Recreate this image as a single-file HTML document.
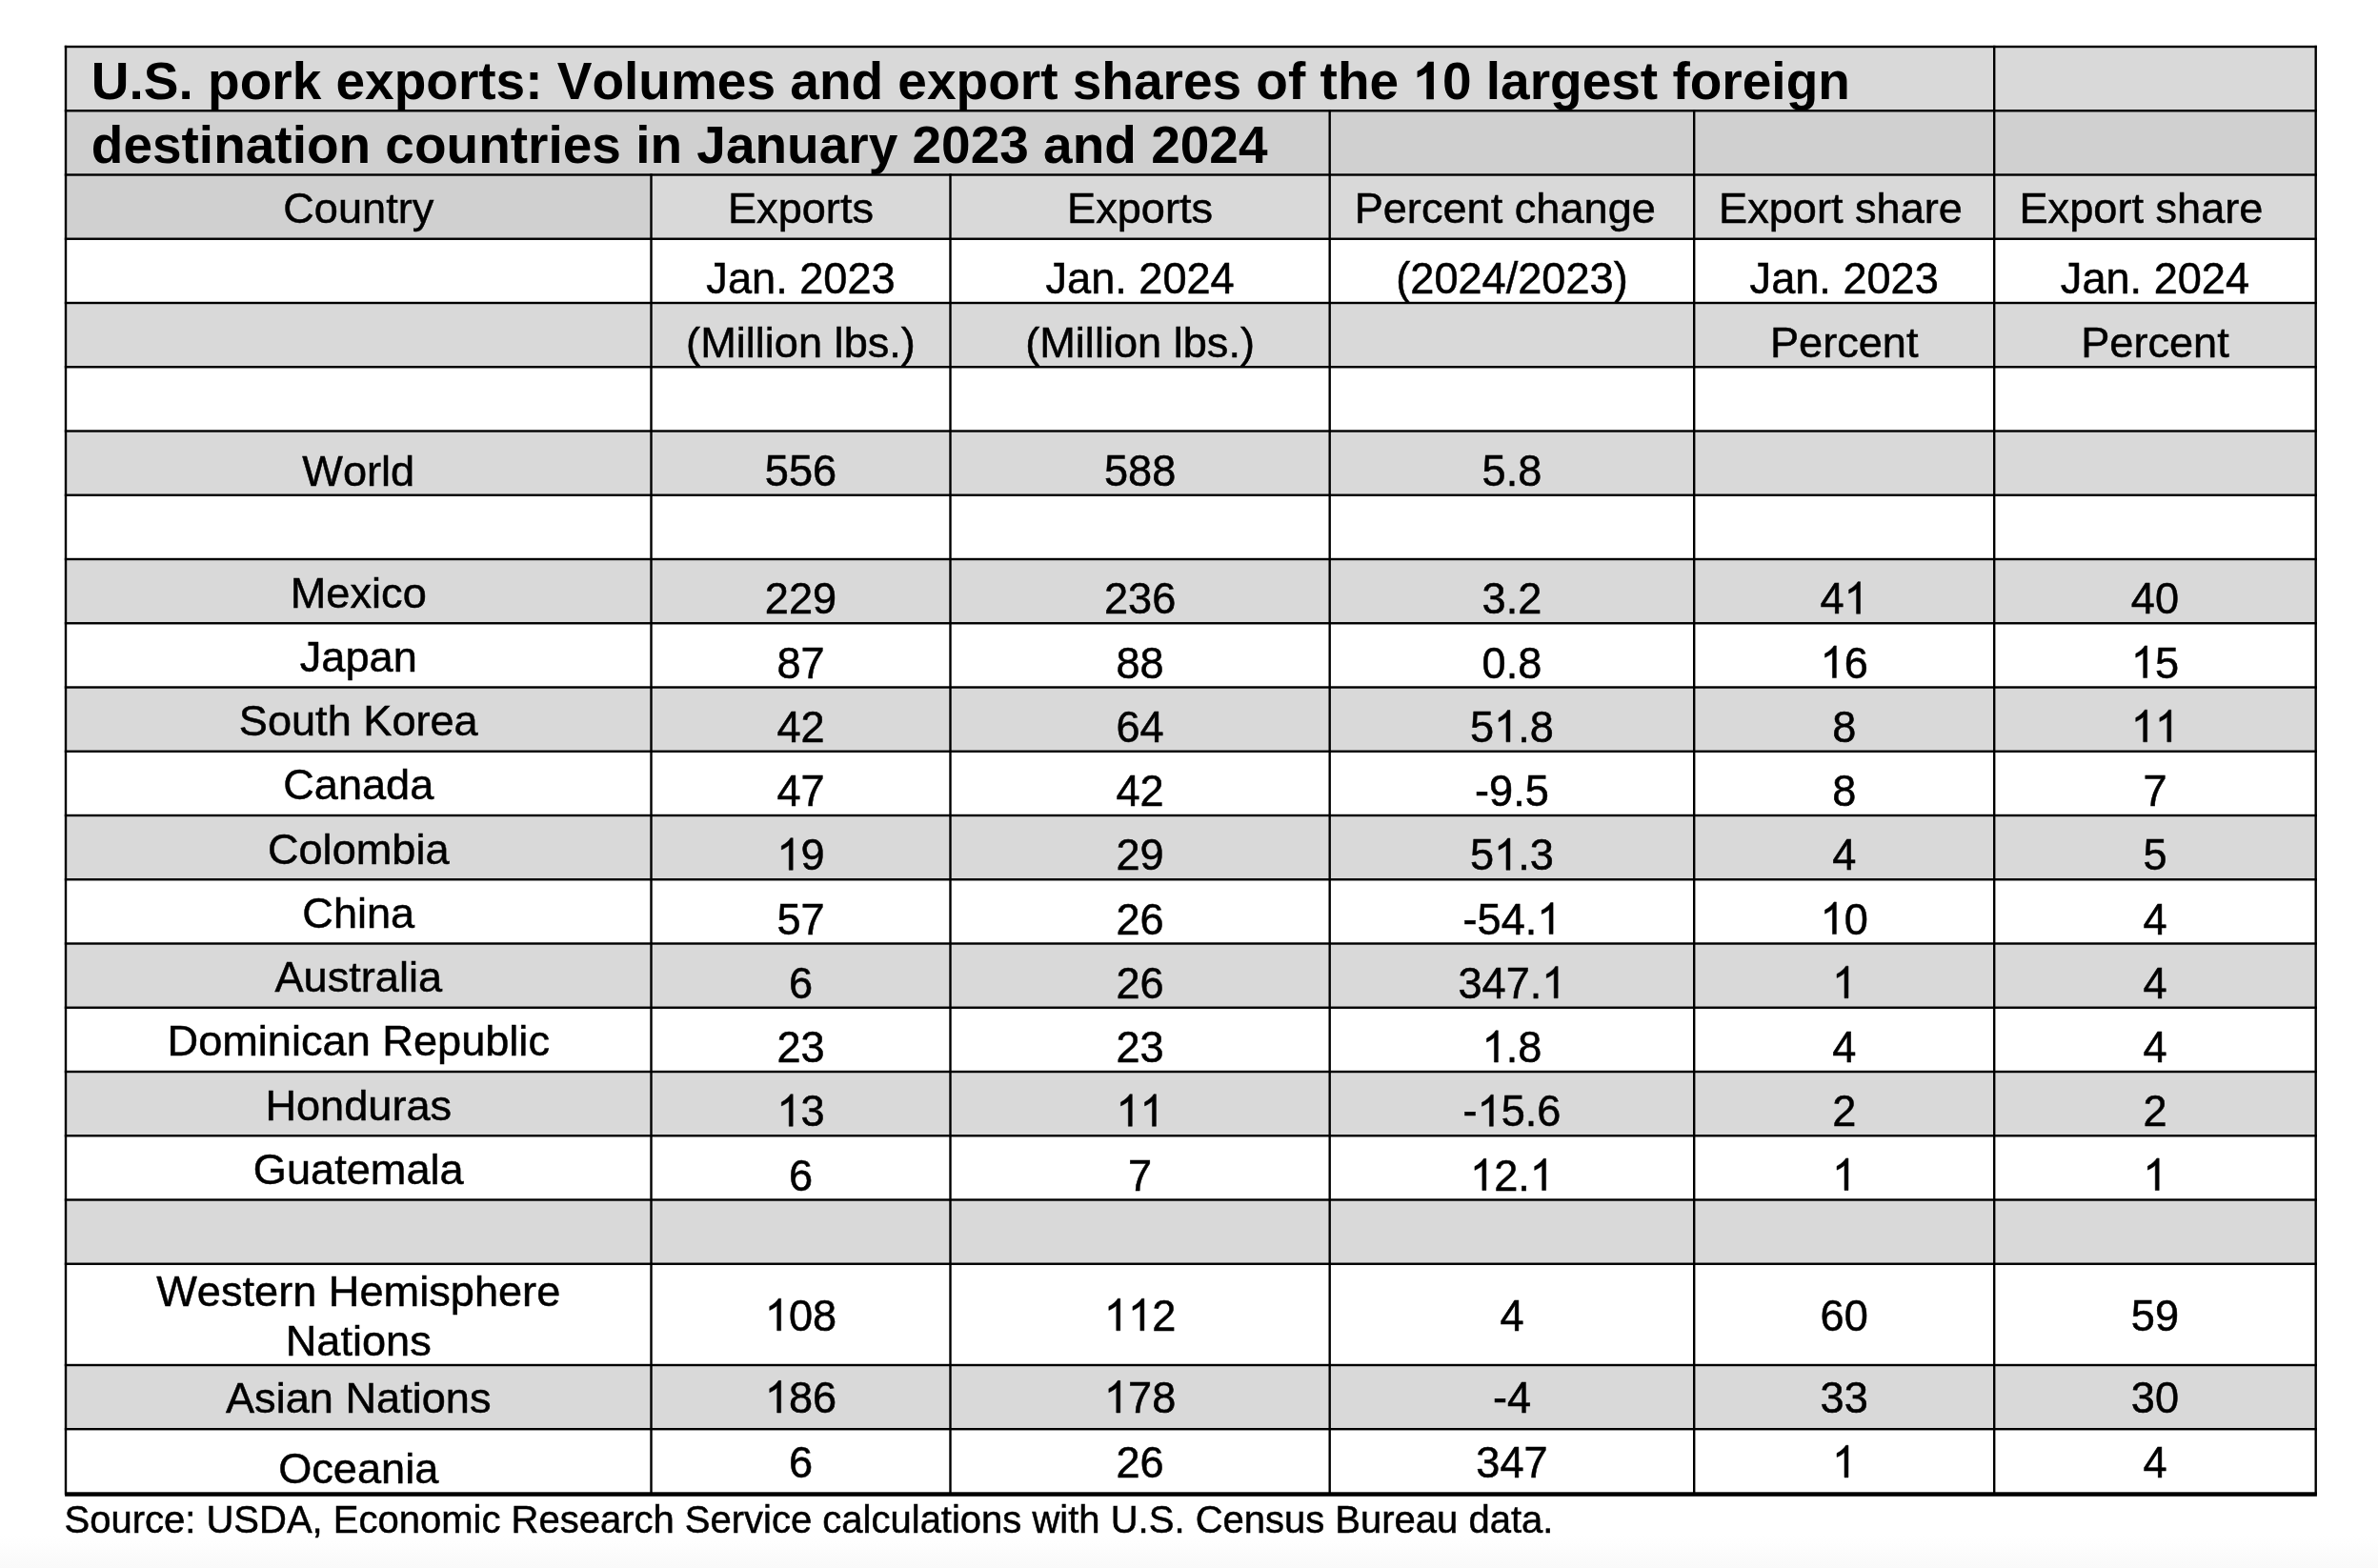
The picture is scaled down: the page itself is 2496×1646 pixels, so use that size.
<!DOCTYPE html>
<html><head><meta charset="utf-8"><style>
html,body{margin:0;padding:0;background:#fff;}
body{width:2496px;height:1646px;overflow:hidden;position:relative;}
.bg{position:absolute;left:0;top:0;width:2496px;height:1646px;background:linear-gradient(to bottom,#fff 0,#fff 1612px,#f9f9f9 1646px);}
svg{position:absolute;left:0;top:0;will-change:transform;}
text{font-family:"Liberation Sans",sans-serif;font-size:45.15px;fill:#000;text-anchor:middle;font-kerning:none;stroke:#000;stroke-width:0.5px;}
text.b{stroke-width:0;}
.h{fill:none;stroke:none;}
.one{fill:#000;stroke:#000;stroke-width:0.5px;vector-effect:non-scaling-stroke;}
</style></head><body><div class="bg"></div>
<svg width="2496" height="1646" viewBox="0 0 2496 1646">
<rect x="69.00" y="49.00" width="2361.70" height="67.25" fill="#d9d9d9"/>
<rect x="69.00" y="116.25" width="2361.70" height="67.25" fill="#d0d0d0"/>
<rect x="69.00" y="183.50" width="614.50" height="67.25" fill="#d0d0d0"/>
<rect x="683.50" y="183.50" width="1747.20" height="67.25" fill="#d9d9d9"/>
<rect x="69.00" y="318.00" width="2361.70" height="67.25" fill="#d9d9d9"/>
<rect x="69.00" y="452.50" width="2361.70" height="67.25" fill="#d9d9d9"/>
<rect x="69.00" y="587.00" width="2361.70" height="67.25" fill="#d9d9d9"/>
<rect x="69.00" y="721.50" width="2361.70" height="67.25" fill="#d9d9d9"/>
<rect x="69.00" y="856.00" width="2361.70" height="67.25" fill="#d9d9d9"/>
<rect x="69.00" y="990.50" width="2361.70" height="67.25" fill="#d9d9d9"/>
<rect x="69.00" y="1125.00" width="2361.70" height="67.25" fill="#d9d9d9"/>
<rect x="69.00" y="1259.50" width="2361.70" height="67.25" fill="#d9d9d9"/>
<rect x="69.00" y="1433.00" width="2361.70" height="67.20" fill="#d9d9d9"/>
<rect x="67.80" y="47.80" width="2364.10" height="2.40" fill="#000"/>
<rect x="67.80" y="115.05" width="2364.10" height="2.40" fill="#000"/>
<rect x="67.80" y="182.30" width="2364.10" height="2.40" fill="#000"/>
<rect x="67.80" y="249.55" width="2364.10" height="2.40" fill="#000"/>
<rect x="67.80" y="316.80" width="2364.10" height="2.40" fill="#000"/>
<rect x="67.80" y="384.05" width="2364.10" height="2.40" fill="#000"/>
<rect x="67.80" y="451.30" width="2364.10" height="2.40" fill="#000"/>
<rect x="67.80" y="518.55" width="2364.10" height="2.40" fill="#000"/>
<rect x="67.80" y="585.80" width="2364.10" height="2.40" fill="#000"/>
<rect x="67.80" y="653.05" width="2364.10" height="2.40" fill="#000"/>
<rect x="67.80" y="720.30" width="2364.10" height="2.40" fill="#000"/>
<rect x="67.80" y="787.55" width="2364.10" height="2.40" fill="#000"/>
<rect x="67.80" y="854.80" width="2364.10" height="2.40" fill="#000"/>
<rect x="67.80" y="922.05" width="2364.10" height="2.40" fill="#000"/>
<rect x="67.80" y="989.30" width="2364.10" height="2.40" fill="#000"/>
<rect x="67.80" y="1056.55" width="2364.10" height="2.40" fill="#000"/>
<rect x="67.80" y="1123.80" width="2364.10" height="2.40" fill="#000"/>
<rect x="67.80" y="1191.05" width="2364.10" height="2.40" fill="#000"/>
<rect x="67.80" y="1258.30" width="2364.10" height="2.40" fill="#000"/>
<rect x="67.80" y="1325.55" width="2364.10" height="2.40" fill="#000"/>
<rect x="67.80" y="1431.80" width="2364.10" height="2.40" fill="#000"/>
<rect x="67.80" y="1499.00" width="2364.10" height="2.40" fill="#000"/>
<rect x="68.10" y="1566.3" width="2363.80" height="4.5" fill="#000"/>
<rect x="67.80" y="47.80" width="2.40" height="1521.40" fill="#000"/>
<rect x="2429.50" y="47.80" width="2.40" height="1521.40" fill="#000"/>
<rect x="2092.00" y="47.80" width="2.40" height="1521.40" fill="#000"/>
<rect x="1394.50" y="115.05" width="2.40" height="1454.15" fill="#000"/>
<rect x="1777.00" y="115.05" width="2.40" height="1454.15" fill="#000"/>
<rect x="682.30" y="182.30" width="2.40" height="1386.90" fill="#000"/>
<rect x="996.30" y="182.30" width="2.40" height="1386.90" fill="#000"/>
<text id="t0" class="b" transform="translate(95.80 104.20) scale(1 1.0000)" style="font-weight:bold;font-size:55.0px;text-anchor:start">U.S. pork exports: Volumes and export shares of the <tspan class="h">1</tspan>0 largest foreign</text>
<text class="b" transform="translate(95.80 170.90) scale(1 1.0015)" style="font-weight:bold;font-size:55.0px;text-anchor:start">destination countries in January 2023 and 2024</text>
<text transform="translate(376.25 234.10) scale(1 1.0000)">Country</text>
<text transform="translate(840.50 234.10) scale(1 1.0000)">Exports</text>
<text transform="translate(1196.60 234.10) scale(1 1.0000)">Exports</text>
<text transform="translate(1579.75 234.10) scale(1 1.0000)">Percent change</text>
<text transform="translate(1932.00 234.10) scale(1 1.0000)">Export share</text>
<text transform="translate(2247.45 234.10) scale(1 1.0000)">Export share</text>
<text transform="translate(840.50 308.05) scale(1 1.0231)">Jan. 2023</text>
<text transform="translate(1196.60 308.05) scale(1 1.0231)">Jan. 2024</text>
<text transform="translate(1586.95 308.05) scale(1 1.0298)">(2024/2023)</text>
<text transform="translate(1935.70 308.05) scale(1 1.0231)">Jan. 2023</text>
<text transform="translate(2261.95 308.05) scale(1 1.0231)">Jan. 2024</text>
<text transform="translate(840.50 374.60) scale(1 1.0000)">(Million lbs.)</text>
<text transform="translate(1196.60 374.60) scale(1 1.0000)">(Million lbs.)</text>
<text transform="translate(1935.70 374.60) scale(1 1.0000)">Percent</text>
<text transform="translate(2261.95 374.60) scale(1 1.0000)">Percent</text>
<text transform="translate(376.25 509.80) scale(1 1.0002)">World</text>
<text transform="translate(840.50 509.80) scale(1 1.0410)">556</text>
<text transform="translate(1196.60 509.80) scale(1 1.0410)">588</text>
<text transform="translate(1586.95 509.80) scale(1 1.0273)">5.8</text>
<text transform="translate(376.25 637.60) scale(1 1.0000)">Mexico</text>
<text transform="translate(840.50 644.30) scale(1 1.0410)">229</text>
<text transform="translate(1196.60 644.30) scale(1 1.0410)">236</text>
<text transform="translate(1586.95 644.30) scale(1 1.0273)">3.2</text>
<text id="t1" transform="translate(1935.70 644.30) scale(1 1.0410)">4<tspan class="h">1</tspan></text>
<text transform="translate(2261.95 644.30) scale(1 1.0410)">40</text>
<text transform="translate(376.25 704.85) scale(1 1.0002)">Japan</text>
<text transform="translate(840.50 711.55) scale(1 1.0410)">87</text>
<text transform="translate(1196.60 711.55) scale(1 1.0410)">88</text>
<text transform="translate(1586.95 711.55) scale(1 1.0273)">0.8</text>
<text id="t2" transform="translate(1935.70 711.55) scale(1 1.0410)"><tspan class="h">1</tspan>6</text>
<text id="t3" transform="translate(2261.95 711.55) scale(1 1.0410)"><tspan class="h">1</tspan>5</text>
<text transform="translate(376.25 772.10) scale(1 1.0002)">South Korea</text>
<text transform="translate(840.50 778.80) scale(1 1.0410)">42</text>
<text transform="translate(1196.60 778.80) scale(1 1.0410)">64</text>
<text id="t4" transform="translate(1586.95 778.80) scale(1 1.0308)">5<tspan class="h">1</tspan>.8</text>
<text transform="translate(1935.70 778.80) scale(1 1.0410)">8</text>
<text id="t5" transform="translate(2261.95 778.80) scale(1 1.0410)"><tspan class="h">1</tspan><tspan class="h">1</tspan></text>
<text transform="translate(376.25 839.35) scale(1 1.0000)">Canada</text>
<text transform="translate(840.50 846.05) scale(1 1.0410)">47</text>
<text transform="translate(1196.60 846.05) scale(1 1.0410)">42</text>
<text transform="translate(1586.95 846.05) scale(1 1.0205)">-9.5</text>
<text transform="translate(1935.70 846.05) scale(1 1.0410)">8</text>
<text transform="translate(2261.95 846.05) scale(1 1.0410)">7</text>
<text transform="translate(376.25 906.60) scale(1 1.0000)">Colombia</text>
<text id="t6" transform="translate(840.50 913.30) scale(1 1.0410)"><tspan class="h">1</tspan>9</text>
<text transform="translate(1196.60 913.30) scale(1 1.0410)">29</text>
<text id="t7" transform="translate(1586.95 913.30) scale(1 1.0308)">5<tspan class="h">1</tspan>.3</text>
<text transform="translate(1935.70 913.30) scale(1 1.0410)">4</text>
<text transform="translate(2261.95 913.30) scale(1 1.0410)">5</text>
<text transform="translate(376.25 973.85) scale(1 1.0002)">China</text>
<text transform="translate(840.50 980.55) scale(1 1.0410)">57</text>
<text transform="translate(1196.60 980.55) scale(1 1.0410)">26</text>
<text id="t8" transform="translate(1586.95 980.55) scale(1 1.0246)">-54.<tspan class="h">1</tspan></text>
<text id="t9" transform="translate(1935.70 980.55) scale(1 1.0410)"><tspan class="h">1</tspan>0</text>
<text transform="translate(2261.95 980.55) scale(1 1.0410)">4</text>
<text transform="translate(376.25 1041.10) scale(1 1.0000)">Australia</text>
<text transform="translate(840.50 1047.80) scale(1 1.0410)">6</text>
<text transform="translate(1196.60 1047.80) scale(1 1.0410)">26</text>
<text id="t10" transform="translate(1586.95 1047.80) scale(1 1.0328)">347.<tspan class="h">1</tspan></text>
<text id="t11" transform="translate(1935.70 1047.80) scale(1 1.0410)"><tspan class="h">1</tspan></text>
<text transform="translate(2261.95 1047.80) scale(1 1.0410)">4</text>
<text transform="translate(376.25 1108.35) scale(1 1.0000)">Dominican Republic</text>
<text transform="translate(840.50 1115.05) scale(1 1.0410)">23</text>
<text transform="translate(1196.60 1115.05) scale(1 1.0410)">23</text>
<text id="t12" transform="translate(1586.95 1115.05) scale(1 1.0273)"><tspan class="h">1</tspan>.8</text>
<text transform="translate(1935.70 1115.05) scale(1 1.0410)">4</text>
<text transform="translate(2261.95 1115.05) scale(1 1.0410)">4</text>
<text transform="translate(376.25 1175.60) scale(1 1.0000)">Honduras</text>
<text id="t13" transform="translate(840.50 1182.30) scale(1 1.0410)"><tspan class="h">1</tspan>3</text>
<text id="t14" transform="translate(1196.60 1182.30) scale(1 1.0410)"><tspan class="h">1</tspan><tspan class="h">1</tspan></text>
<text id="t15" transform="translate(1586.95 1182.30) scale(1 1.0246)">-<tspan class="h">1</tspan>5.6</text>
<text transform="translate(1935.70 1182.30) scale(1 1.0410)">2</text>
<text transform="translate(2261.95 1182.30) scale(1 1.0410)">2</text>
<text transform="translate(376.25 1242.85) scale(1 1.0000)">Guatemala</text>
<text transform="translate(840.50 1249.55) scale(1 1.0410)">6</text>
<text transform="translate(1196.60 1249.55) scale(1 1.0410)">7</text>
<text id="t16" transform="translate(1586.95 1249.55) scale(1 1.0308)"><tspan class="h">1</tspan>2.<tspan class="h">1</tspan></text>
<text id="t17" transform="translate(1935.70 1249.55) scale(1 1.0410)"><tspan class="h">1</tspan></text>
<text id="t18" transform="translate(2261.95 1249.55) scale(1 1.0410)"><tspan class="h">1</tspan></text>
<text transform="translate(376.25 1370.70) scale(1 1.0000)">Western Hemisphere</text>
<text transform="translate(376.25 1422.70) scale(1 1.0000)">Nations</text>
<text id="t19" transform="translate(840.50 1396.80) scale(1 1.0410)"><tspan class="h">1</tspan>08</text>
<text id="t20" transform="translate(1196.60 1396.80) scale(1 1.0410)"><tspan class="h">1</tspan><tspan class="h">1</tspan>2</text>
<text transform="translate(1586.95 1396.80) scale(1 1.0410)">4</text>
<text transform="translate(1935.70 1396.80) scale(1 1.0410)">60</text>
<text transform="translate(2261.95 1396.80) scale(1 1.0410)">59</text>
<text transform="translate(376.25 1483.00) scale(1 1.0000)">Asian Nations</text>
<text id="t21" transform="translate(840.50 1483.00) scale(1 1.0410)"><tspan class="h">1</tspan>86</text>
<text id="t22" transform="translate(1196.60 1483.00) scale(1 1.0410)"><tspan class="h">1</tspan>78</text>
<text transform="translate(1586.95 1483.00) scale(1 1.0205)">-4</text>
<text transform="translate(1935.70 1483.00) scale(1 1.0410)">33</text>
<text transform="translate(2261.95 1483.00) scale(1 1.0410)">30</text>
<text transform="translate(376.25 1556.50) scale(1 1.0000)">Oceania</text>
<text transform="translate(840.50 1550.90) scale(1 1.0410)">6</text>
<text transform="translate(1196.60 1550.90) scale(1 1.0410)">26</text>
<text transform="translate(1586.95 1550.90) scale(1 1.0410)">347</text>
<text id="t23" transform="translate(1935.70 1550.90) scale(1 1.0410)"><tspan class="h">1</tspan></text>
<text transform="translate(2261.95 1550.90) scale(1 1.0410)">4</text>
<text transform="translate(67.50 1608.90) scale(1 1.0000)" style="font-size:40px;text-anchor:start">Source: USDA, Economic Research Service calculations with U.S. Census Bureau data.</text>
<path transform="translate(1483.35 104.20) scale(0.026855 -0.026855)" d="M802,0L521,0L521,1059Q367,915 158,846L158,1101Q268,1137 397,1237Q526,1337 574,1466L802,1466Z"/>
<path class="one" transform="translate(1935.70 644.30) scale(0.022046 -0.022950)" d="M763,0L583,0L583,1147Q518,1085 415,1024.5Q312,964 223,931L223,1105Q375,1176 489.5,1277.5Q604,1379 652,1466L763,1466Z"/>
<path class="one" transform="translate(1910.58 711.55) scale(0.022046 -0.022950)" d="M763,0L583,0L583,1147Q518,1085 415,1024.5Q312,964 223,931L223,1105Q375,1176 489.5,1277.5Q604,1379 652,1466L763,1466Z"/>
<path class="one" transform="translate(2236.83 711.55) scale(0.022046 -0.022950)" d="M763,0L583,0L583,1147Q518,1085 415,1024.5Q312,964 223,931L223,1105Q375,1176 489.5,1277.5Q604,1379 652,1466L763,1466Z"/>
<path class="one" transform="translate(1568.12 778.80) scale(0.022046 -0.022724)" d="M763,0L583,0L583,1147Q518,1085 415,1024.5Q312,964 223,931L223,1105Q375,1176 489.5,1277.5Q604,1379 652,1466L763,1466Z"/>
<path class="one" transform="translate(2236.83 778.80) scale(0.022046 -0.022950)" d="M763,0L583,0L583,1147Q518,1085 415,1024.5Q312,964 223,931L223,1105Q375,1176 489.5,1277.5Q604,1379 652,1466L763,1466Z"/>
<path class="one" transform="translate(2261.95 778.80) scale(0.022046 -0.022950)" d="M763,0L583,0L583,1147Q518,1085 415,1024.5Q312,964 223,931L223,1105Q375,1176 489.5,1277.5Q604,1379 652,1466L763,1466Z"/>
<path class="one" transform="translate(815.38 913.30) scale(0.022046 -0.022950)" d="M763,0L583,0L583,1147Q518,1085 415,1024.5Q312,964 223,931L223,1105Q375,1176 489.5,1277.5Q604,1379 652,1466L763,1466Z"/>
<path class="one" transform="translate(1568.12 913.30) scale(0.022046 -0.022724)" d="M763,0L583,0L583,1147Q518,1085 415,1024.5Q312,964 223,931L223,1105Q375,1176 489.5,1277.5Q604,1379 652,1466L763,1466Z"/>
<path class="one" transform="translate(1613.28 980.55) scale(0.022046 -0.022588)" d="M763,0L583,0L583,1147Q518,1085 415,1024.5Q312,964 223,931L223,1105Q375,1176 489.5,1277.5Q604,1379 652,1466L763,1466Z"/>
<path class="one" transform="translate(1910.58 980.55) scale(0.022046 -0.022950)" d="M763,0L583,0L583,1147Q518,1085 415,1024.5Q312,964 223,931L223,1105Q375,1176 489.5,1277.5Q604,1379 652,1466L763,1466Z"/>
<path class="one" transform="translate(1618.32 1047.80) scale(0.022046 -0.022769)" d="M763,0L583,0L583,1147Q518,1085 415,1024.5Q312,964 223,931L223,1105Q375,1176 489.5,1277.5Q604,1379 652,1466L763,1466Z"/>
<path class="one" transform="translate(1923.14 1047.80) scale(0.022046 -0.022950)" d="M763,0L583,0L583,1147Q518,1085 415,1024.5Q312,964 223,931L223,1105Q375,1176 489.5,1277.5Q604,1379 652,1466L763,1466Z"/>
<path class="one" transform="translate(1555.57 1115.05) scale(0.022046 -0.022648)" d="M763,0L583,0L583,1147Q518,1085 415,1024.5Q312,964 223,931L223,1105Q375,1176 489.5,1277.5Q604,1379 652,1466L763,1466Z"/>
<path class="one" transform="translate(815.38 1182.30) scale(0.022046 -0.022950)" d="M763,0L583,0L583,1147Q518,1085 415,1024.5Q312,964 223,931L223,1105Q375,1176 489.5,1277.5Q604,1379 652,1466L763,1466Z"/>
<path class="one" transform="translate(1171.48 1182.30) scale(0.022046 -0.022950)" d="M763,0L583,0L583,1147Q518,1085 415,1024.5Q312,964 223,931L223,1105Q375,1176 489.5,1277.5Q604,1379 652,1466L763,1466Z"/>
<path class="one" transform="translate(1196.60 1182.30) scale(0.022046 -0.022950)" d="M763,0L583,0L583,1147Q518,1085 415,1024.5Q312,964 223,931L223,1105Q375,1176 489.5,1277.5Q604,1379 652,1466L763,1466Z"/>
<path class="one" transform="translate(1550.54 1182.30) scale(0.022046 -0.022588)" d="M763,0L583,0L583,1147Q518,1085 415,1024.5Q312,964 223,931L223,1105Q375,1176 489.5,1277.5Q604,1379 652,1466L763,1466Z"/>
<path class="one" transform="translate(1543.01 1249.55) scale(0.022046 -0.022724)" d="M763,0L583,0L583,1147Q518,1085 415,1024.5Q312,964 223,931L223,1105Q375,1176 489.5,1277.5Q604,1379 652,1466L763,1466Z"/>
<path class="one" transform="translate(1605.78 1249.55) scale(0.022046 -0.022724)" d="M763,0L583,0L583,1147Q518,1085 415,1024.5Q312,964 223,931L223,1105Q375,1176 489.5,1277.5Q604,1379 652,1466L763,1466Z"/>
<path class="one" transform="translate(1923.14 1249.55) scale(0.022046 -0.022950)" d="M763,0L583,0L583,1147Q518,1085 415,1024.5Q312,964 223,931L223,1105Q375,1176 489.5,1277.5Q604,1379 652,1466L763,1466Z"/>
<path class="one" transform="translate(2249.39 1249.55) scale(0.022046 -0.022950)" d="M763,0L583,0L583,1147Q518,1085 415,1024.5Q312,964 223,931L223,1105Q375,1176 489.5,1277.5Q604,1379 652,1466L763,1466Z"/>
<path class="one" transform="translate(802.83 1396.80) scale(0.022046 -0.022950)" d="M763,0L583,0L583,1147Q518,1085 415,1024.5Q312,964 223,931L223,1105Q375,1176 489.5,1277.5Q604,1379 652,1466L763,1466Z"/>
<path class="one" transform="translate(1158.92 1396.80) scale(0.022046 -0.022950)" d="M763,0L583,0L583,1147Q518,1085 415,1024.5Q312,964 223,931L223,1105Q375,1176 489.5,1277.5Q604,1379 652,1466L763,1466Z"/>
<path class="one" transform="translate(1184.04 1396.80) scale(0.022046 -0.022950)" d="M763,0L583,0L583,1147Q518,1085 415,1024.5Q312,964 223,931L223,1105Q375,1176 489.5,1277.5Q604,1379 652,1466L763,1466Z"/>
<path class="one" transform="translate(802.83 1483.00) scale(0.022046 -0.022950)" d="M763,0L583,0L583,1147Q518,1085 415,1024.5Q312,964 223,931L223,1105Q375,1176 489.5,1277.5Q604,1379 652,1466L763,1466Z"/>
<path class="one" transform="translate(1158.93 1483.00) scale(0.022046 -0.022950)" d="M763,0L583,0L583,1147Q518,1085 415,1024.5Q312,964 223,931L223,1105Q375,1176 489.5,1277.5Q604,1379 652,1466L763,1466Z"/>
<path class="one" transform="translate(1923.14 1550.90) scale(0.022046 -0.022950)" d="M763,0L583,0L583,1147Q518,1085 415,1024.5Q312,964 223,931L223,1105Q375,1176 489.5,1277.5Q604,1379 652,1466L763,1466Z"/>
</svg></body></html>
